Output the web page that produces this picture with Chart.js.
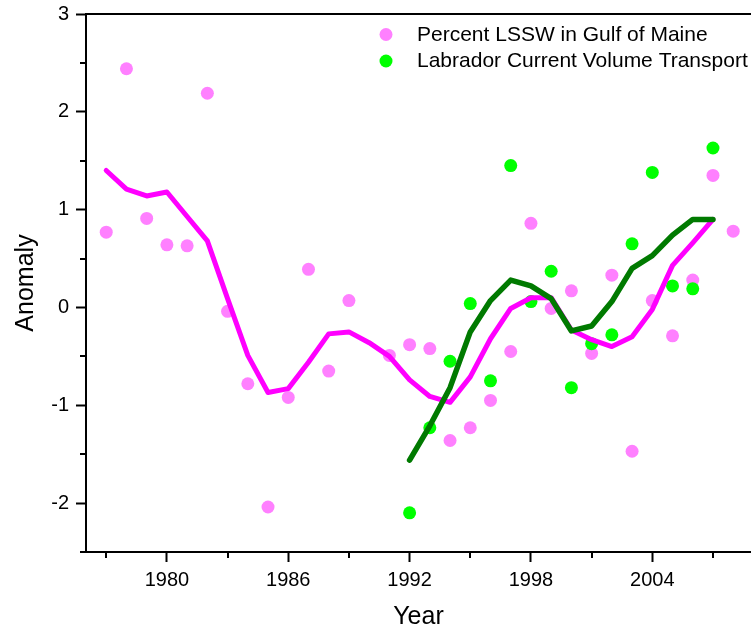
<!DOCTYPE html>
<html>
<head>
<meta charset="utf-8">
<title>Anomaly</title>
<script src="https://cdn.jsdelivr.net/npm/chart.js@4.4.1/dist/chart.umd.min.js"></script>
<style>
  html, body { margin: 0; padding: 0; background: #fff; }
  canvas { display: block; }
</style>
</head>
<body>
<canvas id="anomalyChart" width="751" height="632"></canvas>
<script>
// Percent LSSW in Gulf of Maine, yearly (no value for 1990)
const lsswYears = [1977, 1978, 1979, 1980, 1981, 1982, 1983, 1984, 1985, 1986, 1987, 1988, 1989, 1990, 1991, 1992,
                   1993, 1994, 1995, 1996, 1997, 1998, 1999, 2000, 2001, 2002, 2003, 2004, 2005, 2006, 2007, 2008];
const lsswValues = [0.77, 2.44, 0.91, 0.64, 0.63, 2.19, -0.04, -0.78, -2.04, -0.92, 0.39, -0.65, 0.07, null, -0.49, -0.38,
                    -0.42, -1.36, -1.23, -0.95, -0.45, 0.86, -0.01, 0.17, -0.47, 0.33, -1.47, 0.07, -0.29, 0.28, 1.35, 0.78];

// smoothed LSSW curve
const lsswSmoothYears = [1977, 1978, 1979, 1980, 1981, 1982, 1983, 1984, 1985, 1986, 1987, 1988, 1989, 1990, 1991, 1992,
                         1993, 1994, 1995, 1996, 1997, 1998, 1999, 2000, 2001, 2002, 2003, 2004, 2005, 2006, 2007];
const lsswSmooth = [1.40, 1.21, 1.14, 1.18, 0.93, 0.68, 0.09, -0.49, -0.87, -0.83, -0.56, -0.27, -0.25, -0.36, -0.50, -0.74,
                    -0.91, -0.97, -0.71, -0.32, -0.01, 0.10, 0.10, -0.23, -0.33, -0.40, -0.30, -0.02, 0.43, 0.66, 0.90];

// Labrador Current volume transport and its smoothed curve
const labYears = [1992, 1993, 1994, 1995, 1996, 1997, 1998, 1999, 2000, 2001, 2002, 2003, 2004, 2005, 2006, 2007];
const labValues = [-2.10, -1.23, -0.55, 0.04, -0.75, 1.45, 0.06, 0.37, -0.82, -0.37, -0.28, 0.65, 1.38, 0.22, 0.19, 1.63];
const labSmooth = [-1.56, -1.21, -0.82, -0.25, 0.07, 0.28, 0.22, 0.09, -0.24, -0.19, 0.06, 0.40, 0.53, 0.74, 0.90, 0.90];

// axis ticks
const yearTicks = [1980, 1986, 1992, 1998, 2004];
const yearMinorTicks = [1977, 1983, 1989, 1995, 2001, 2007];
const anomalyTicks = [-2, -1, 0, 1, 2, 3];
const anomalyMinorTicks = [-2.5, -1.5, -0.5, 0.5, 1.5, 2.5];

const toPoints = (xs, ys) => xs.map((x, i) => ({x: x, y: ys[i]}));

const FONT = "'Liberation Sans', Arial, sans-serif";

// keep the plot area fixed: no extra room for overhanging tick labels
const noLabelPadding = (scale) => {
    scale.paddingTop = 0;
    scale.paddingBottom = 0;
    scale.paddingLeft = 0;
    scale.paddingRight = 0;
};

// minor ticks, the top frame line and the in-plot legend
const axisExtras = {
    id: 'axisExtras',
    afterDraw(chart) {
        const {ctx, chartArea, scales} = chart;
        ctx.save();
        ctx.strokeStyle = '#000';
        ctx.lineWidth = 2;
        ctx.beginPath();
        ctx.moveTo(chartArea.left - 1, chartArea.top);
        ctx.lineTo(chartArea.right, chartArea.top);
        yearMinorTicks.forEach(v => {
            const px = Math.round(scales.x.getPixelForValue(v));
            ctx.moveTo(px, chartArea.bottom);
            ctx.lineTo(px, chartArea.bottom + 6);
        });
        anomalyMinorTicks.forEach(v => {
            const py = Math.round(scales.y.getPixelForValue(v));
            ctx.moveTo(chartArea.left, py);
            ctx.lineTo(chartArea.left - 6, py);
        });
        ctx.stroke();

        // legend entries for the point series only, LSSW first
        const entries = chart.data.datasets
            .filter(d => !d.showLine)
            .sort((a, b) => b.order - a.order);
        ctx.font = '21px ' + FONT;
        ctx.textBaseline = 'middle';
        ctx.textAlign = 'left';
        entries.forEach((d, i) => {
            const y = 34.5 + i * 26.5;
            ctx.fillStyle = d.backgroundColor;
            ctx.beginPath();
            ctx.arc(386, y, 6.5, 0, Math.PI * 2);
            ctx.fill();
            ctx.fillStyle = '#000';
            ctx.fillText(d.label, 417, y + 0.5);
        });
        ctx.restore();
    }
};

document.addEventListener('DOMContentLoaded', () => {
    const ctx = document.getElementById('anomalyChart').getContext('2d');

    new Chart(ctx, {
        type: 'scatter',
        data: {
            datasets: [
                {
                    label: 'Labrador Current smoothed',
                    data: toPoints(labYears, labSmooth),
                    showLine: true,
                    borderColor: '#007a00',
                    borderWidth: 5.5,
                    borderCapStyle: 'round',
                    borderJoinStyle: 'round',
                    pointRadius: 0,
                    order: 0
                },
                {
                    label: 'LSSW smoothed',
                    data: toPoints(lsswSmoothYears, lsswSmooth),
                    showLine: true,
                    borderColor: '#ff00ff',
                    borderWidth: 5,
                    borderCapStyle: 'round',
                    borderJoinStyle: 'round',
                    pointRadius: 0,
                    order: 1
                },
                {
                    label: 'Labrador Current Volume Transport',
                    data: toPoints(labYears, labValues),
                    showLine: false,
                    backgroundColor: '#00ff00',
                    borderWidth: 0,
                    pointRadius: 6.5,
                    order: 2
                },
                {
                    label: 'Percent LSSW in Gulf of Maine',
                    data: toPoints(lsswYears, lsswValues),
                    showLine: false,
                    backgroundColor: '#ff80ff',
                    borderWidth: 0,
                    pointRadius: 6.5,
                    order: 3
                }
            ]
        },
        options: {
            responsive: false,
            animation: false,
            layout: {
                autoPadding: false,
                padding: {top: 14, right: 0, bottom: 0, left: 0}
            },
            plugins: {
                legend: {display: false},
                tooltip: {enabled: false}
            },
            scales: {
                x: {
                    type: 'linear',
                    min: 1976,
                    max: 2008.88,
                    afterBuildTicks: (scale) => {
                        scale.ticks = yearTicks.map(v => ({value: v}));
                    },
                    afterFit: (scale) => {
                        scale.height = 80;
                        noLabelPadding(scale);
                    },
                    grid: {
                        drawOnChartArea: false,
                        tickLength: 10,
                        tickWidth: 2,
                        tickColor: '#000'
                    },
                    border: {color: '#000', width: 2},
                    ticks: {
                        color: '#000',
                        font: {family: FONT, size: 20},
                        padding: 6,
                        maxRotation: 0,
                        callback: (v) => String(v)
                    },
                    title: {
                        display: true,
                        text: 'Year',
                        color: '#000',
                        font: {family: FONT, size: 25},
                        padding: 0
                    }
                },
                y: {
                    min: -2.5,
                    max: 3,
                    afterBuildTicks: (scale) => {
                        scale.ticks = anomalyTicks.map(v => ({value: v}));
                    },
                    afterFit: (scale) => {
                        scale.width = 86;
                        noLabelPadding(scale);
                    },
                    grid: {
                        drawOnChartArea: false,
                        tickLength: 10,
                        tickWidth: 2,
                        tickColor: '#000'
                    },
                    border: {color: '#000', width: 2},
                    ticks: {
                        color: '#000',
                        font: {family: FONT, size: 20},
                        padding: 7,
                        callback: (v) => String(v)
                    },
                    title: {
                        display: true,
                        text: 'Anomaly',
                        color: '#000',
                        font: {family: FONT, size: 25},
                        padding: {top: 11, bottom: 0}
                    }
                }
            }
        },
        plugins: [axisExtras]
    });
});
</script>
</body>
</html>
